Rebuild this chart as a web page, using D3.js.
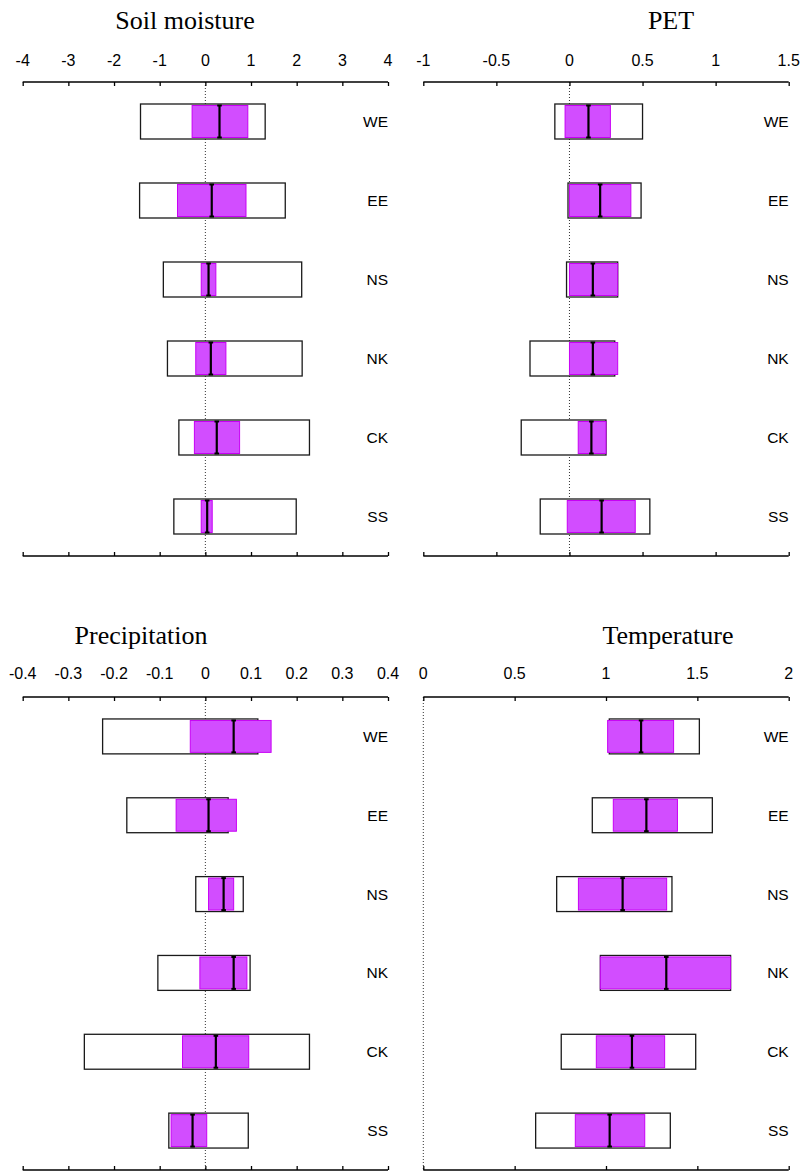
<!DOCTYPE html>
<html>
<head>
<meta charset="utf-8">
<script src="https://cdn.jsdelivr.net/npm/d3@7"></script>
<style>
  body { margin: 0; background: #fff; }
  svg { display: block; }
  .tick-label, .row-label { font-family: "Liberation Sans", Arial, sans-serif; fill: #000; }
  .title { font-family: "Liberation Serif", "Times New Roman", serif; font-size: 26px; fill: #000; }
</style>
</head>
<body>
<div id="viz"></div>
<script>
const rows = ['WE', 'EE', 'NS', 'NK', 'CK', 'SS'];

// soil moisture
const soilRange = [[-1.42, 1.31], [-1.44, 1.75], [-0.92, 2.11], [-0.83, 2.12], [-0.58, 2.28], [-0.69, 1.99]];
const soilInner = [[-0.29, 0.93], [-0.61, 0.89], [-0.09, 0.23], [-0.21, 0.45], [-0.24, 0.75], [-0.09, 0.15]];
const soilMean = [0.31, 0.14, 0.07, 0.12, 0.25, 0.04];
const soilTicks = [-4, -3, -2, -1, 0, 1, 2, 3, 4];

// PET
const petRange = [[-0.10, 0.50], [-0.01, 0.49], [-0.02, 0.33], [-0.27, 0.31], [-0.33, 0.25], [-0.20, 0.55]];
const petInner = [[-0.03, 0.28], [0.00, 0.42], [0.00, 0.33], [0.00, 0.33], [0.06, 0.25], [-0.015, 0.45]];
const petMean = [0.13, 0.21, 0.16, 0.16, 0.15, 0.22];
const petTicks = [-1, -0.5, 0, 0.5, 1, 1.5];

// precipitation
const precRange = [[-0.225, 0.115], [-0.172, 0.050], [-0.021, 0.083], [-0.104, 0.098], [-0.265, 0.228], [-0.080, 0.094]];
const precInner = [[-0.033, 0.144], [-0.064, 0.068], [0.007, 0.062], [-0.012, 0.091], [-0.050, 0.095], [-0.075, 0.003]];
const precMean = [0.062, 0.007, 0.040, 0.062, 0.023, -0.028];
const precTicks = [-0.4, -0.3, -0.2, -0.1, 0, 0.1, 0.2, 0.3, 0.4];

// temperature
const tempRange = [[1.018, 1.511], [0.925, 1.582], [0.730, 1.361], [0.969, 1.682], [0.755, 1.491], [0.615, 1.352]];
const tempInner = [[1.009, 1.370], [1.040, 1.391], [0.849, 1.332], [0.969, 1.682], [0.947, 1.321], [0.832, 1.212]];
const tempMean = [1.192, 1.221, 1.091, 1.330, 1.142, 1.020];
const tempTicks = [0, 0.5, 1, 1.5, 2];

const width = 803, height = 1172;

const svg = d3.select('#viz').append('svg')
  .attr('width', width)
  .attr('height', height);

const panels = [
  { title: 'Soil moisture', titleX: 185, titleY: 29, x0: 22.7, x1: 388, y0: 82, y1: 556, labelY: 66,
    domain: [-4, 4], ticks: soilTicks, range: soilRange, inner: soilInner, mean: soilMean },
  { title: 'PET', titleX: 671, titleY: 29, x0: 423.3, x1: 788.7, y0: 82, y1: 556, labelY: 66,
    domain: [-1, 1.5], ticks: petTicks, range: petRange, inner: petInner, mean: petMean },
  { title: 'Precipitation', titleX: 141, titleY: 644, x0: 22.7, x1: 388, y0: 697, y1: 1170, labelY: 678.5,
    domain: [-0.4, 0.4], ticks: precTicks, range: precRange, inner: precInner, mean: precMean },
  { title: 'Temperature', titleX: 668, titleY: 644, x0: 423.3, x1: 788.7, y0: 697, y1: 1170, labelY: 678.5,
    domain: [0, 2], ticks: tempTicks, range: tempRange, inner: tempInner, mean: tempMean }
];

panels.forEach(p => {
  const x = d3.scaleLinear().domain(p.domain).range([p.x0, p.x1]);
  const y = d3.scaleBand().domain(rows).range([p.y0, p.y1])
    .paddingInner(0.557).paddingOuter(0.2785);

  const g = svg.append('g');

  g.append('text')
    .attr('class', 'title')
    .attr('x', p.titleX)
    .attr('y', p.titleY)
    .attr('text-anchor', 'middle')
    .text(p.title);

  // zero line
  g.append('line')
    .attr('x1', x(0)).attr('x2', x(0))
    .attr('y1', p.y0).attr('y2', p.y1)
    .attr('stroke', '#333')
    .attr('stroke-width', 1)
    .attr('stroke-dasharray', '1,2');

  // top axis, ticks pointing in
  const top = g.append('g')
    .attr('transform', `translate(0,${p.y0})`)
    .call(d3.axisBottom(x).tickValues(p.ticks).tickSize(4).tickFormat(''));
  top.select('.domain').attr('d', `M${p.x0},0H${p.x1}`);
  top.selectAll('line, path').attr('stroke', '#000').attr('stroke-width', 1.3);

  g.selectAll('.tick-label')
    .data(p.ticks)
    .join('text')
    .attr('class', 'tick-label')
    .attr('x', d => x(d))
    .attr('y', p.labelY)
    .attr('text-anchor', 'middle')
    .attr('font-size', 16)
    .text(d => String(d));

  const bottom = g.append('g')
    .attr('transform', `translate(0,${p.y1})`)
    .call(d3.axisTop(x).tickValues(p.ticks).tickSize(4).tickFormat(''));
  bottom.select('.domain').attr('d', `M${p.x0},0H${p.x1}`);
  bottom.selectAll('line, path').attr('stroke', '#000').attr('stroke-width', 1.3);

  const bw = y.bandwidth();

  // outer range box
  g.selectAll('.outer')
    .data(rows)
    .join('rect')
    .attr('class', 'outer')
    .attr('x', (d, i) => x(p.range[i][0]))
    .attr('width', (d, i) => x(p.range[i][1]) - x(p.range[i][0]))
    .attr('y', d => y(d))
    .attr('height', bw)
    .attr('fill', '#fff')
    .attr('stroke', '#1a1a1a')
    .attr('stroke-width', 1.3);

  // inner range
  g.selectAll('.inner')
    .data(rows)
    .join('rect')
    .attr('class', 'inner')
    .attr('x', (d, i) => x(p.inner[i][0]))
    .attr('width', (d, i) => x(p.inner[i][1]) - x(p.inner[i][0]))
    .attr('y', d => y(d) + 1.5)
    .attr('height', bw - 3)
    .attr('fill', '#d24dff')
    .attr('stroke', '#c800f5')
    .attr('stroke-width', 1);

  // mean bar with caps
  const mg = g.selectAll('.mean')
    .data(rows)
    .join('g')
    .attr('class', 'mean')
    .attr('transform', (d, i) => `translate(${x(p.mean[i])},0)`);

  mg.append('line')
    .attr('y1', d => y(d) + 1)
    .attr('y2', d => y(d) + bw - 1)
    .attr('stroke', '#000')
    .attr('stroke-width', 2.2);

  mg.append('line')
    .attr('x1', -2.3).attr('x2', 2.3)
    .attr('y1', d => y(d) + 1.5)
    .attr('y2', d => y(d) + 1.5)
    .attr('stroke', '#000')
    .attr('stroke-width', 2);

  mg.append('line')
    .attr('x1', -2.3).attr('x2', 2.3)
    .attr('y1', d => y(d) + bw - 1.5)
    .attr('y2', d => y(d) + bw - 1.5)
    .attr('stroke', '#000')
    .attr('stroke-width', 2);

  g.selectAll('.row-label')
    .data(rows)
    .join('text')
    .attr('class', 'row-label')
    .attr('x', p.x1)
    .attr('y', d => y(d) + bw / 2)
    .attr('dy', '0.36em')
    .attr('text-anchor', 'end')
    .attr('font-size', 15.5)
    .text(d => d);
});
</script>
</body>
</html>
